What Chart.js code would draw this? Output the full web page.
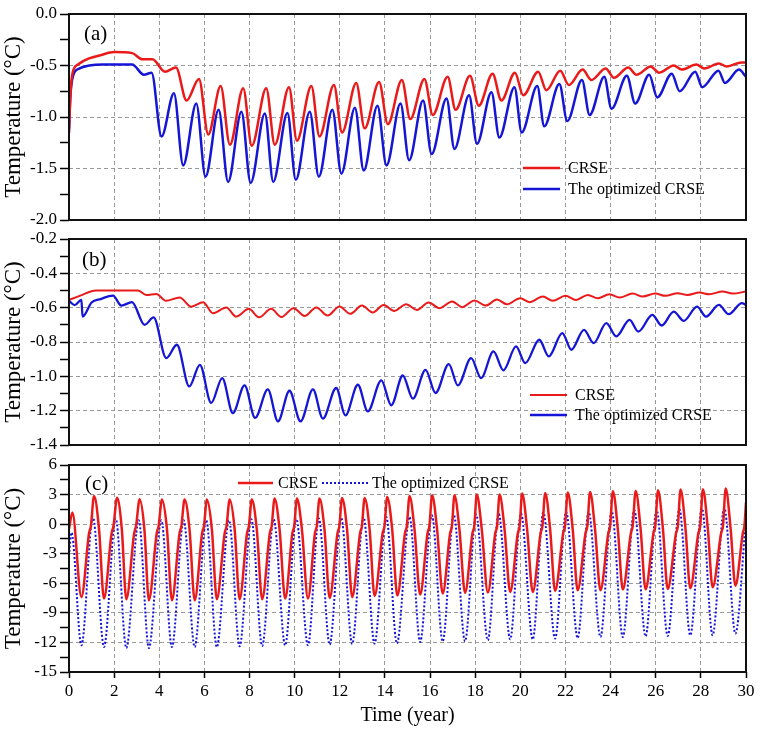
<!DOCTYPE html>
<html>
<head>
<meta charset="utf-8">
<script src="https://cdn.jsdelivr.net/npm/chart.js@4.4.0/dist/chart.umd.min.js"></script>
<style>
  html, body { margin: 0; padding: 0; background: #fff; }
  #wrap { position: relative; width: 762px; height: 737px; overflow: hidden; }
  canvas { position: absolute; left: 0; }
</style>
</head>
<body>
<div id="wrap">
  <canvas id="chartA" width="762" height="240" style="top:0"></canvas>
  <canvas id="chartB" width="762" height="243" style="top:222px"></canvas>
  <canvas id="chartC" width="762" height="290" style="top:447px"></canvas>
</div>
<script>
// x ticks (year) and y tick labels of each panel
const years = [0, 2, 4, 6, 8, 10, 12, 14, 16, 18, 20, 22, 24, 26, 28, 30];
const ticksA = [0, -0.5, -1, -1.5, -2];
const labelsA = ["0.0", "-0.5", "-1.0", "-1.5", "-2.0"];
const ticksB = [-0.2, -0.4, -0.6, -0.8, -1.0, -1.2, -1.4];
const labelsB = ["-0.2", "-0.4", "-0.6", "-0.8", "-1.0", "-1.2", "-1.4"];
const ticksC = [6, 3, 0, -3, -6, -9, -12, -15];
const labelsC = ["6", "3", "0", "-3", "-6", "-9", "-12", "-15"];

// panel (a): [year, temperature °C], read at the turning points of the curves
const redA = [[0,-1.16],[0.06,-0.8],[0.15,-0.58],[0.4,-0.49],[0.9,-0.43],[1.4,-0.4],[2.0,-0.37],[2.8,-0.38],
  [3.25,-0.44],[3.7,-0.44],[4.25,-0.56],[4.74,-0.52],[5.21,-0.84],[5.76,-0.63],[6.17,-1.17],[6.72,-0.70],
  [7.13,-1.27],[7.72,-0.72],[8.1,-1.28],[8.74,-0.72],[9.12,-1.27],[9.75,-0.71],[10.1,-1.23],[10.74,-0.70],
  [11.1,-1.19],[11.74,-0.69],[12.1,-1.15],[12.73,-0.67],[13.1,-1.11],[13.74,-0.66],[14.13,-1.07],[14.75,-0.64],
  [15.12,-1.02],[15.75,-0.63],[16.12,-0.98],[16.78,-0.61],[17.13,-0.93],[17.77,-0.60],[18.16,-0.89],[18.77,-0.58],
  [19.16,-0.84],[19.76,-0.57],[20.13,-0.79],[20.79,-0.56],[21.15,-0.74],[21.77,-0.55],[22.15,-0.69],[22.76,-0.54],
  [23.15,-0.64],[23.78,-0.53],[24.15,-0.62],[24.78,-0.52],[25.15,-0.59],[25.78,-0.51],[26.15,-0.57],[26.8,-0.50],
  [27.15,-0.54],[27.8,-0.49],[28.15,-0.53],[28.8,-0.48],[29.15,-0.51],[29.8,-0.47],[30,-0.47]];
const blueA = [[0,-1.12],[0.06,-0.8],[0.18,-0.6],[0.45,-0.53],[0.9,-0.5],[1.5,-0.49],[2.8,-0.49],[3.32,-0.59],
  [3.66,-0.57],[4.1,-1.19],[4.65,-0.77],[5.06,-1.47],[5.64,-0.87],[6.05,-1.58],[6.63,-0.93],[7.05,-1.63],
  [7.64,-0.95],[8.05,-1.64],[8.68,-0.965],[9.05,-1.63],[9.68,-0.96],[10.05,-1.61],[10.67,-0.95],[11.07,-1.58],
  [11.67,-0.93],[12.07,-1.55],[12.67,-0.91],[13.06,-1.52],[13.67,-0.89],[14.07,-1.47],[14.69,-0.87],[15.07,-1.42],
  [15.69,-0.84],[16.07,-1.36],[16.73,-0.82],[17.08,-1.31],[17.73,-0.79],[18.08,-1.26],[18.72,-0.76],[19.07,-1.2],
  [19.74,-0.71],[20.06,-1.15],[20.75,-0.70],[21.06,-1.09],[21.73,-0.68],[22.08,-1.04],[22.73,-0.64],[23.07,-0.98],
  [23.72,-0.61],[24.04,-0.92],[24.72,-0.60],[25.09,-0.87],[25.71,-0.59],[26.07,-0.81],[26.71,-0.58],[27.06,-0.75],
  [27.75,-0.56],[28.06,-0.71],[28.78,-0.55],[29.07,-0.67],[29.69,-0.54],[30,-0.61]];

// panel (b)
const redB = [[0,-0.555],[0.5,-0.53],[1.2,-0.5],[3.05,-0.5],[3.43,-0.526],[3.87,-0.52],[4.3,-0.56],[4.9,-0.541],
  [5.42,-0.594],[5.94,-0.568],[6.38,-0.632],[6.97,-0.599],[7.41,-0.652],[7.97,-0.607],[8.42,-0.656],[8.96,-0.607],
  [9.41,-0.655],[9.95,-0.603],[10.44,-0.648],[10.96,-0.599],[11.46,-0.646],[11.99,-0.593],[12.46,-0.636],[12.98,-0.588],
  [13.46,-0.628],[13.94,-0.584],[14.42,-0.619],[14.94,-0.58],[15.41,-0.613],[15.94,-0.57],[16.42,-0.603],[16.98,-0.564],
  [17.42,-0.597],[17.97,-0.558],[18.46,-0.588],[18.97,-0.553],[19.4,-0.58],[20.0,-0.545],[20.4,-0.568],[21.0,-0.535],
  [21.43,-0.56],[22.0,-0.531],[22.47,-0.555],[22.99,-0.526],[23.43,-0.545],[23.95,-0.522],[24.39,-0.541],[24.98,-0.518],
  [25.42,-0.535],[25.98,-0.518],[26.43,-0.531],[26.97,-0.516],[27.41,-0.526],[27.93,-0.512],[28.37,-0.522],[28.96,-0.506],
  [29.41,-0.518],[30,-0.506]];
const blueB = [[0,-0.56],[0.25,-0.585],[0.55,-0.555],[0.6,-0.652],[1.0,-0.57],[1.4,-0.55],[1.95,-0.53],[2.32,-0.588],
  [2.79,-0.568],[3.35,-0.70],[3.75,-0.657],[4.31,-0.894],[4.78,-0.816],[5.33,-1.059],[5.8,-0.933],[6.3,-1.155],
  [6.79,-1.01],[7.26,-1.214],[7.78,-1.053],[8.25,-1.242],[8.81,-1.076],[9.26,-1.262],[9.77,-1.084],[10.26,-1.262],
  [10.81,-1.076],[11.25,-1.246],[11.84,-1.068],[12.25,-1.227],[12.8,-1.049],[13.24,-1.204],[13.84,-1.024],[14.28,-1.169],
  [14.79,-0.995],[15.24,-1.13],[15.8,-0.962],[16.24,-1.097],[16.83,-0.929],[17.23,-1.053],[17.82,-0.894],[18.26,-1.01],
  [18.81,-0.855],[19.25,-0.965],[19.81,-0.826],[20.22,-0.923],[20.84,-0.787],[21.26,-0.884],[21.86,-0.748],[22.26,-0.845],
  [22.82,-0.729],[23.25,-0.806],[23.81,-0.69],[24.25,-0.767],[24.84,-0.671],[25.23,-0.739],[25.85,-0.642],[26.26,-0.704],
  [26.8,-0.623],[27.24,-0.677],[27.83,-0.594],[28.23,-0.652],[28.8,-0.584],[29.23,-0.638],[29.82,-0.574],[30,-0.584]];

// panel (c): trough, two points of the kink near 0 °C, peak, and one point on the way down
const redC = [[0,-0.5],[0.15,1.17],
  [0.55,-7.39],[0.89,-0.9],[0.97,-0.2],[1.11,2.86],[1.33,-0.5],
  [1.55,-7.55],[1.89,-0.9],[1.97,-0.2],[2.13,2.67],[2.34,-0.5],
  [2.54,-7.62],[2.89,-0.9],[2.97,-0.2],[3.13,2.52],[3.34,-0.5],
  [3.54,-7.72],[3.89,-0.9],[3.97,-0.2],[4.12,2.49],[4.34,-0.5],
  [4.56,-7.72],[4.9,-0.9],[4.98,-0.2],[5.12,2.49],[5.34,-0.5],
  [5.57,-7.72],[5.9,-0.9],[5.98,-0.2],[6.11,2.49],[6.33,-0.5],
  [6.55,-7.62],[6.9,-0.9],[6.98,-0.2],[7.12,2.49],[7.34,-0.5],
  [7.56,-7.62],[7.89,-0.9],[7.97,-0.2],[8.1,2.49],[8.32,-0.5],
  [8.56,-7.62],[8.9,-0.9],[8.98,-0.2],[9.11,2.59],[9.33,-0.5],
  [9.58,-7.55],[9.9,-0.9],[9.98,-0.2],[10.1,2.59],[10.32,-0.5],
  [10.59,-7.55],[10.9,-0.9],[10.98,-0.2],[11.1,2.59],[11.32,-0.5],
  [11.55,-7.49],[11.9,-0.9],[11.98,-0.2],[12.1,2.66],[12.32,-0.5],
  [12.55,-7.39],[12.9,-0.9],[12.98,-0.2],[13.1,2.66],[13.32,-0.5],
  [13.54,-7.29],[13.9,-0.9],[13.98,-0.2],[14.1,2.76],[14.32,-0.5],
  [14.55,-7.25],[14.89,-0.9],[14.97,-0.2],[15.09,2.86],[15.31,-0.5],
  [15.56,-7.15],[15.89,-0.9],[15.97,-0.2],[16.09,2.93],[16.31,-0.5],
  [16.56,-7.04],[16.89,-0.9],[16.97,-0.2],[17.08,2.93],[17.3,-0.5],
  [17.55,-6.98],[17.88,-0.9],[17.96,-0.2],[18.07,3.0],[18.29,-0.5],
  [18.56,-6.94],[18.89,-0.9],[18.97,-0.2],[19.08,3.0],[19.3,-0.5],
  [19.55,-6.88],[19.89,-0.9],[19.97,-0.2],[20.08,3.1],[20.3,-0.5],
  [20.55,-6.88],[20.9,-0.9],[20.98,-0.2],[21.1,3.16],[21.32,-0.5],
  [21.54,-6.78],[21.9,-0.9],[21.98,-0.2],[22.1,3.2],[22.32,-0.5],
  [22.54,-6.71],[22.89,-0.9],[22.97,-0.2],[23.09,3.27],[23.31,-0.5],
  [23.55,-6.71],[23.9,-0.9],[23.98,-0.2],[24.1,3.34],[24.32,-0.5],
  [24.54,-6.64],[24.9,-0.9],[24.98,-0.2],[25.11,3.37],[25.33,-0.5],
  [25.55,-6.61],[25.9,-0.9],[25.98,-0.2],[26.1,3.44],[26.32,-0.5],
  [26.53,-6.58],[26.9,-0.9],[26.98,-0.2],[27.1,3.51],[27.32,-0.5],
  [27.53,-6.51],[27.89,-0.9],[27.97,-0.2],[28.09,3.54],[28.31,-0.5],
  [28.52,-6.41],[28.9,-0.9],[28.98,-0.2],[29.1,3.61],[29.32,-0.5],
  [29.53,-6.24],[29.86,-0.9],[29.93,-0.2],[30,2.2]];
const blueC = [[0,-3.2],[0.11,-0.86],[0.55,-12.29],[1.06,0.73],[1.55,-12.46],[2.07,0.57],[2.54,-12.57],[3.09,0.39],
  [3.54,-12.57],[4.09,0.39],[4.56,-12.46],[5.08,0.39],[5.57,-12.46],[6.08,0.39],[6.55,-12.46],[7.09,0.39],
  [7.56,-12.39],[8.08,0.49],[8.56,-12.36],[9.07,0.49],[9.58,-12.29],[10.07,0.57],[10.59,-12.29],[11.07,0.57],
  [11.55,-12.22],[12.06,0.63],[12.55,-12.15],[13.05,0.73],[13.54,-12.12],[14.06,0.73],[14.53,-12.1],[15.09,0.73],
  [15.56,-11.95],[16.08,0.9],[16.56,-11.88],[17.05,0.97],[17.55,-11.88],[18.04,0.97],[18.56,-11.78],[19.04,1.07],
  [19.55,-11.68],[20.03,1.07],[20.55,-11.68],[21.02,1.17],[21.54,-11.61],[22.03,1.24],[22.54,-11.55],[23.03,1.24],
  [23.55,-11.45],[24.05,1.31],[24.54,-11.45],[25.05,1.41],[25.55,-11.38],[26.04,1.41],[26.53,-11.34],[27.05,1.51],
  [27.53,-11.27],[28.05,1.58],[28.52,-11.27],[29.04,1.64],[29.53,-11.1],[30,0.7]];

Chart.defaults.font.family = '"Liberation Serif", "Times New Roman", serif';
Chart.defaults.color = "#000";
Chart.defaults.animation = false;

const RED = "#ea1a1a";
const BLUE = "#1515d6";

const toPoints = (arr) => arr.map((p) => ({ x: p[0], y: p[1] }));

function series(label, arr, color, width, dash) {
  return {
    label,
    data: toPoints(arr),
    borderColor: color,
    backgroundColor: color,
    borderWidth: width,
    borderDash: dash || [],
    pointRadius: 0,
    pointHoverRadius: 0,
    fill: false,
    cubicInterpolationMode: "monotone",
  };
}

// frame, panel letter and the legend inside the plot
const decor = {
  id: "decor",
  afterDraw(chart, args, opts) {
    const { ctx, chartArea: a } = chart;
    ctx.save();
    ctx.strokeStyle = "#111";
    ctx.lineWidth = 2;
    ctx.setLineDash([]);
    ctx.strokeRect(a.left, a.top, a.right - a.left, a.bottom - a.top);

    ctx.fillStyle = "#000";
    ctx.textBaseline = "middle";
    ctx.font = '21px "Liberation Serif"';
    ctx.fillText(opts.tag, a.left + opts.tagX, a.top + opts.tagY);

    ctx.font = '16px "Liberation Serif"';
    opts.items.forEach((it, i) => {
      const ds = chart.data.datasets[i];
      const y = a.top + it.y;
      ctx.beginPath();
      ctx.strokeStyle = ds.borderColor;
      ctx.lineWidth = ds.borderWidth;
      ctx.setLineDash(ds.borderDash);
      ctx.moveTo(a.left + it.x, y);
      ctx.lineTo(a.left + it.x + it.len, y);
      ctx.stroke();
      ctx.setLineDash([]);
      ctx.fillText(ds.label, a.left + it.tx, y + 1);
    });
    ctx.restore();
  },
};

function withMinor(major) {
  const out = [];
  major.forEach((v, i) => {
    out.push({ value: v, big: true });
    if (i < major.length - 1) out.push({ value: (v + major[i + 1]) / 2 });
  });
  return out;
}

function panel(id, datasets, yTicks, yLabels, o) {
  return new Chart(document.getElementById(id), {
    type: "line",
    data: { datasets },
    options: {
      responsive: false,
      animation: false,
      layout: { padding: { top: o.padTop, right: 16, left: 0, bottom: 0 } },
      plugins: {
        legend: { display: false },
        tooltip: { enabled: false },
        decor: o.decor,
      },
      scales: {
        x: {
          type: "linear",
          min: 0,
          max: 30,
          afterBuildTicks: (s) => {
            s.ticks = years.map((v) => ({ value: v }));
          },
          afterFit: (s) => {
            s.height = o.xHeight;
          },
          grid: {
            color: "#9a9a9a",
            lineWidth: 1,
            drawTicks: o.showX,
            tickLength: 6,
            tickColor: "#000",
            tickWidth: 1.5,
          },
          border: { display: false, dash: [4, 3] },
          ticks: {
            display: o.showX,
            padding: 3,
            autoSkip: false,
            maxRotation: 0,
            font: { size: 17 },
            callback: (v) => String(v),
          },
          title: {
            display: o.showX,
            text: "Time (year)",
            font: { size: 20 },
            padding: { top: 0, bottom: 9 },
          },
        },
        y: {
          min: yTicks[yTicks.length - 1],
          max: yTicks[0],
          afterBuildTicks: (s) => {
            s.ticks = withMinor(yTicks);
          },
          afterFit: (s) => {
            s.width = 69;
          },
          grid: {
            color: (c) => (c.tick && c.tick.big ? "#9a9a9a" : "rgba(0,0,0,0)"),
            lineWidth: 1,
            tickLength: 9,
            tickColor: "#000",
            tickWidth: 1.5,
          },
          border: { display: false, dash: [4, 3] },
          ticks: {
            padding: 3,
            autoSkip: false,
            font: { size: 17 },
            callback: (v) => {
              const k = yTicks.indexOf(v);
              return k >= 0 ? yLabels[k] : "";
            },
          },
          title: {
            display: true,
            text: "Temperature (°C)",
            font: { size: 23 },
            padding: { top: 0, bottom: 0 },
          },
        },
      },
    },
    plugins: [decor],
  });
}

panel(
  "chartA",
  [series("CRSE", redA, RED, 2.5), series("The optimized CRSE", blueA, BLUE, 2.5)],
  ticksA,
  labelsA,
  {
    padTop: 14,
    xHeight: 20,
    showX: false,
    decor: {
      tag: "(a)", tagX: 15, tagY: 20,
      items: [
        { x: 454, y: 154, len: 37, tx: 499 },
        { x: 454, y: 175, len: 37, tx: 499 },
      ],
    },
  }
);

panel(
  "chartB",
  [series("CRSE", redB, RED, 2), series("The optimized CRSE", blueB, BLUE, 2.3)],
  ticksB,
  labelsB,
  {
    padTop: 17,
    xHeight: 20,
    showX: false,
    decor: {
      tag: "(b)", tagX: 13, tagY: 21,
      items: [
        { x: 461, y: 156, len: 37, tx: 506 },
        { x: 461, y: 176, len: 37, tx: 506 },
      ],
    },
  }
);

panel(
  "chartC",
  [series("CRSE", redC, RED, 2.5), series("The optimized CRSE", blueC, BLUE, 2, [2, 2])],
  ticksC,
  labelsC,
  {
    padTop: 18,
    xHeight: 65,
    showX: true,
    decor: {
      tag: "(c)", tagX: 16, tagY: 19,
      items: [
        { x: 169, y: 18, len: 35, tx: 209 },
        { x: 253, y: 18, len: 46, tx: 303 },
      ],
    },
  }
);
</script>
</body>
</html>
